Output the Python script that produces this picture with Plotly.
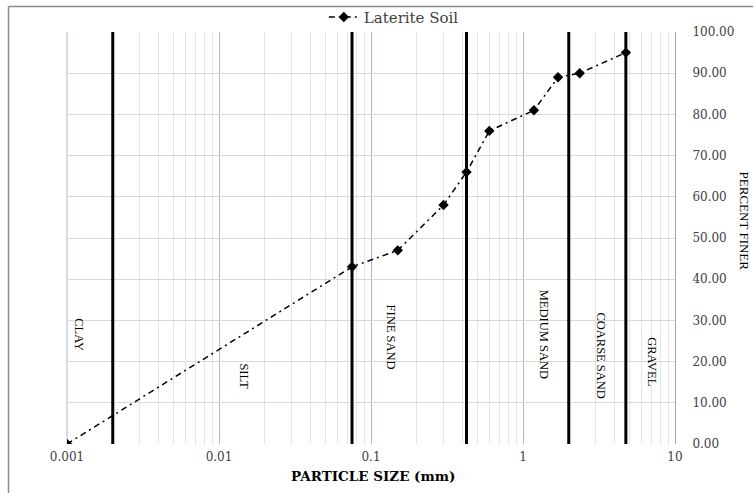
import numpy as np
import plotly.graph_objects as go

# Sieve analysis: particle size (mm) vs percent finer
particle_size = [0.001, 0.075, 0.15, 0.3, 0.425, 0.6, 1.18, 1.7, 2.36, 4.75]
percent_finer = [0.0, 43.0, 47.0, 58.0, 66.0, 76.0, 81.0, 89.0, 90.0, 95.0]

# Soil classification boundaries (mm)
boundaries = [0.002, 0.075, 0.425, 2.0, 4.75]

# Zone labels with their placement (size in mm, percent)
zone_names = ["CLAY", "SILT", "FINE SAND", "MEDIUM SAND", "COARSE SAND", "GRAVEL"]
zone_x = [0.00121, 0.0147, 0.136, 1.38, 3.28, 7.1]
zone_y = [26.5, 16.3, 26.0, 26.7, 21.4, 20.0]

x_ticks = [0.001, 0.01, 0.1, 1, 10]
x_tick_text = ["0.001", "0.01", "0.1", "1", "10"]
minor_ticks = [m * 10.0 ** e for e in range(-3, 1) for m in range(2, 10)]

SERIF = "Liberation Serif"
WIDE_SERIF = "DejaVu Serif"
MAJOR_GRID = "#a3bbe6"

fig = go.Figure()

for b in boundaries:
    fig.add_trace(go.Scatter(
        x=[b, b], y=[0, 100], mode="lines",
        line=dict(color="black", width=3),
        showlegend=False, hoverinfo="skip",
    ))

fig.add_trace(go.Scatter(
    x=particle_size, y=percent_finer, mode="lines+markers",
    name="Laterite Soil",
    line=dict(color="black", width=1.5, dash="6px,4px,2px,4px"),
    marker=dict(symbol="diamond", size=8, color="black"),
))

annotations = []
for name, zx, zy in zip(zone_names, zone_x, zone_y):
    annotations.append(dict(
        x=np.log10(zx), y=zy, xref="x", yref="y", text=name,
        textangle=90, showarrow=False, xanchor="center", yanchor="middle",
        font=dict(family=SERIF, size=12.5, color="black"),
    ))

annotations.append(dict(
    x=0.503, y=-0.078, xref="paper", yref="paper",
    text="<b>PARTICLE SIZE (mm)</b>", showarrow=False,
    xanchor="center", yanchor="middle",
    font=dict(family=WIDE_SERIF, size=13.5, color="black"),
))
annotations.append(dict(
    x=1.115, y=0.54, xref="paper", yref="paper",
    text="PERCENT FINER", textangle=90, showarrow=False,
    xanchor="center", yanchor="middle",
    font=dict(family=SERIF, size=13, color="black"),
))

shapes = [
    # outer frame (top and left edges)
    dict(type="line", xref="paper", yref="paper",
         x0=-0.0962, x1=1.2, y0=1.0619, y1=1.0619,
         line=dict(color="#8c8c8c", width=1.5)),
    dict(type="line", xref="paper", yref="paper",
         x0=-0.0962, x1=-0.0962, y0=1.0619, y1=-0.2,
         line=dict(color="#8c8c8c", width=1.5)),
    # left edge of the plot area in the major grid colour
    dict(type="line", xref="x domain", yref="y domain",
         x0=0, x1=0, y0=0, y1=1,
         line=dict(color=MAJOR_GRID, width=1), layer="below"),
]

fig.update_layout(
    width=753, height=493,
    margin=dict(l=67, r=78, t=32, b=49, autoexpand=False),
    paper_bgcolor="white", plot_bgcolor="white",
    font=dict(family=WIDE_SERIF, size=11, color="#404040"),
    showlegend=True,
    legend=dict(
        orientation="h", xref="container", yref="container",
        x=0.523, y=0.965, xanchor="center", yanchor="middle",
        font=dict(family=WIDE_SERIF, size=15, color="#404040"),
        bgcolor="rgba(0,0,0,0)",
    ),
    annotations=annotations,
    shapes=shapes,
    xaxis=dict(
        type="log", range=[-3, 1],
        tickvals=x_ticks, ticktext=x_tick_text,
        showgrid=True, gridcolor=MAJOR_GRID, gridwidth=1,
        minor=dict(tickvals=minor_ticks, showgrid=True,
                   gridcolor="#e4e4e4", gridwidth=1, ticks=""),
        ticks="", showline=False, zeroline=False,
        tickfont=dict(family=WIDE_SERIF, size=12, color="#404040"),
        ticklabelstandoff=4,
    ),
    yaxis=dict(
        range=[0, 100], dtick=10, tickformat=".2f",
        side="right", showgrid=True, gridcolor="#d9d9d9", gridwidth=1,
        showline=True, linecolor="#a6a6a6", linewidth=1,
        ticks="", zeroline=False,
        tickfont=dict(family=WIDE_SERIF, size=12, color="#404040"),
        ticklabelstandoff=14,
    ),
)

fig.write_html("out.html")
